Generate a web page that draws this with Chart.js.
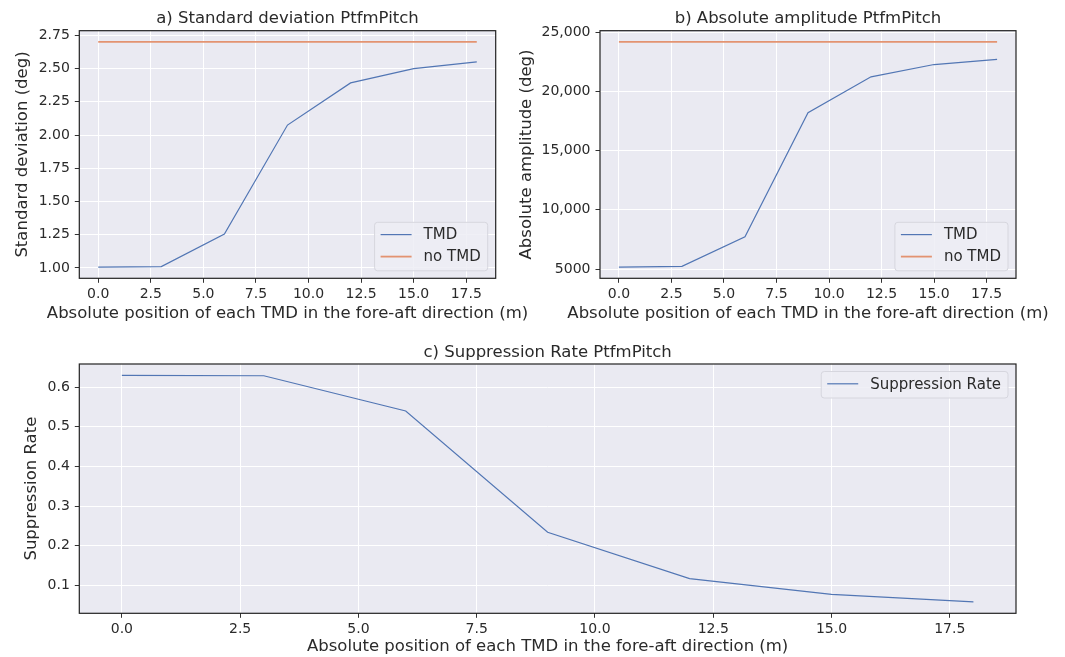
<!DOCTYPE html>
<html>
<head>
<meta charset="utf-8">
<script src="https://cdn.jsdelivr.net/npm/chart.js@4.4.1/dist/chart.umd.min.js"></script>
<style>
  html, body { margin: 0; padding: 0; background: #fff; }
  #page { position: relative; width: 1065px; height: 657px; }
  canvas { position: absolute; }
</style>
</head>
<body>
<div id="page">
  <canvas id="stdChart" width="540" height="330" style="left:0;top:0"></canvas>
  <canvas id="ampChart" width="550" height="330" style="left:515px;top:0"></canvas>
  <canvas id="rateChart" width="1065" height="327" style="left:0;top:330px"></canvas>
</div>
<script>
// TMD position sweep -> PtfmPitch response, three panels

const positions = [0, 3, 6, 9, 12, 15, 18];
const stdTmd = [1.007, 1.01, 1.255, 2.075, 2.392, 2.50, 2.55];
const stdNoTmd = [2.70, 2.70, 2.70, 2.70, 2.70, 2.70, 2.70];
const ampTmd = [5170, 5225, 7720, 18190, 21220, 22260, 22700];
const ampNoTmd = [24165, 24165, 24165, 24165, 24165, 24165, 24165];
const suppressionRate = [0.630, 0.629, 0.540, 0.234, 0.117, 0.077, 0.058];

const xTicks = [0, 2.5, 5, 7.5, 10, 12.5, 15, 17.5];
const stdTicks = [1.00, 1.25, 1.50, 1.75, 2.00, 2.25, 2.50, 2.75];
const ampTicks = [5000, 10000, 15000, 20000, 25000];
const rateTicks = [0.1, 0.2, 0.3, 0.4, 0.5, 0.6];

const xLabel = "Absolute position of each TMD in the fore-aft direction (m)";
const BLUE = "#5276b4";
const ORANGE = "#e39371";
const INK = "#2a2a2a";
const LABEL_SIZE = 16.5;

Chart.defaults.font.family = "'DejaVu Sans', sans-serif";
Chart.defaults.color = INK;

// axes background, frame, x label (wider than the axes, so not the scale title)
// and a matplotlib-like legend box
const plotFrame = {
  id: "plotFrame",
  beforeDraw(chart) {
    const { ctx, chartArea: a } = chart;
    ctx.save();
    ctx.fillStyle = "#eaeaf2";
    ctx.fillRect(a.left, a.top, a.width, a.height);
    ctx.restore();
  },
  afterDatasetsDraw(chart) {
    const { ctx, chartArea: a } = chart;
    ctx.save();
    ctx.strokeStyle = "#222";
    ctx.lineWidth = 1.2;
    ctx.strokeRect(a.left, a.top, a.width, a.height);
    ctx.restore();
  },
  afterDraw(chart, args, opts) {
    const { ctx, chartArea: a } = chart;
    const sets = chart.data.datasets;
    ctx.save();

    ctx.font = LABEL_SIZE + "px 'DejaVu Sans'";
    ctx.fillStyle = INK;
    ctx.textAlign = "center";
    ctx.textBaseline = "middle";
    ctx.fillText(xLabel, (a.left + a.right) / 2, opts.xTitleY);

    ctx.textAlign = "left";
    ctx.font = "15px 'DejaVu Sans'";
    const textW = Math.max(...sets.map(d => ctx.measureText(d.label).width));
    const w = 6 + 31 + 12 + textW + 7;
    const h = sets.length * 22 + 4.5;
    const x = a.right - 8 - w;
    const y = opts.corner === "upper" ? a.top + 7.5 : a.bottom - 7.5 - h;
    ctx.beginPath();
    ctx.roundRect(x, y, w, h, 3);
    ctx.fillStyle = "rgba(237,237,244,0.85)";
    ctx.fill();
    ctx.strokeStyle = "#d6d6de";
    ctx.lineWidth = 1;
    ctx.stroke();
    sets.forEach((d, i) => {
      const cy = y + 12.3 + i * 22;
      ctx.beginPath();
      ctx.moveTo(x + 6, cy);
      ctx.lineTo(x + 37, cy);
      ctx.strokeStyle = d.borderColor;
      ctx.lineWidth = d.borderWidth;
      ctx.stroke();
      ctx.fillStyle = INK;
      ctx.fillText(d.label, x + 49, cy + 1);
    });
    ctx.restore();
  }
};

function padded(values) {
  const lo = Math.min(...values), hi = Math.max(...values);
  const m = (hi - lo) * 0.05;
  return [lo - m, hi + m];
}

function axisGrid() {
  return { color: "#ffffff", lineWidth: 1, drawTicks: true, tickLength: 4.5, tickColor: "#333", tickWidth: 1 };
}

function makeChart(id, c) {
  const [ymin, ymax] = padded(c.datasets.flatMap(d => d.data));
  const [xmin, xmax] = padded(positions);
  return new Chart(document.getElementById(id), {
    type: "line",
    data: {
      labels: positions,
      datasets: c.datasets.map(d => ({
        label: d.label,
        data: positions.map((p, i) => ({ x: p, y: d.data[i] })),
        borderColor: d.color,
        borderWidth: d.width,
        pointRadius: 0,
        tension: 0,
        fill: false
      }))
    },
    options: {
      responsive: false,
      animation: false,
      layout: { padding: { left: 0, right: c.right, top: 0, bottom: 0 } },
      scales: {
        x: {
          type: "linear",
          min: xmin,
          max: xmax,
          afterBuildTicks: s => { s.ticks = xTicks.map(v => ({ value: v })); },
          afterFit: s => { s.height = c.xHeight; },
          ticks: { font: { size: 14 }, padding: 3, maxRotation: 0, callback: v => v.toFixed(1) },
          grid: axisGrid(),
          border: { display: false },
          title: { display: false }
        },
        y: {
          type: "linear",
          min: ymin,
          max: ymax,
          afterBuildTicks: s => { s.ticks = c.ticks.map(v => ({ value: v })); },
          afterFit: s => { s.width = c.yWidth; },
          ticks: { font: { size: 14 }, padding: 5, callback: c.fmt },
          grid: axisGrid(),
          border: { display: false },
          title: { display: true, text: c.yTitle, font: { size: LABEL_SIZE }, padding: { top: c.yTitlePad, bottom: 0 } }
        }
      },
      plugins: {
        legend: { display: false },
        tooltip: { enabled: false },
        title: {
          display: true,
          text: c.title,
          fullSize: false,
          color: INK,
          font: { size: LABEL_SIZE, weight: "normal" },
          padding: { top: c.titlePad[0], bottom: c.titlePad[1] }
        },
        plotFrame: { corner: c.corner, xTitleY: c.xTitleY }
      }
    },
    plugins: [plotFrame]
  });
}

makeChart("stdChart", {
  title: "a) Standard deviation PtfmPitch",
  yTitle: "Standard deviation (deg)",
  datasets: [
    { label: "TMD", data: stdTmd, color: BLUE, width: 1.2 },
    { label: "no TMD", data: stdNoTmd, color: ORANGE, width: 1.8 }
  ],
  ticks: stdTicks,
  fmt: v => v.toFixed(2),
  corner: "lower",
  right: 44.3, yWidth: 79.3, xHeight: 51.7,
  titlePad: [9.1, 1.8], xTitleY: 313.5, yTitlePad: 12.4
});

makeChart("ampChart", {
  title: "b) Absolute amplitude PtfmPitch",
  yTitle: "Absolute amplitude (deg)",
  datasets: [
    { label: "TMD", data: ampTmd, color: BLUE, width: 1.2 },
    { label: "no TMD", data: ampNoTmd, color: ORANGE, width: 1.8 }
  ],
  ticks: ampTicks,
  fmt: v => (v >= 10000 ? v.toLocaleString("en-US") : String(v)),
  corner: "lower",
  right: 49, yWidth: 85, xHeight: 51.7,
  titlePad: [9.1, 1.8], xTitleY: 313.5, yTitlePad: 2.1
});

makeChart("rateChart", {
  title: "c) Suppression Rate PtfmPitch",
  yTitle: "Suppression Rate",
  datasets: [
    { label: "Suppression Rate", data: suppressionRate, color: BLUE, width: 1.2 }
  ],
  ticks: rateTicks,
  fmt: v => v.toFixed(1),
  corner: "upper",
  right: 49, yWidth: 79.3, xHeight: 43.7,
  titlePad: [13.1, 1.1], xTitleY: 316.7, yTitlePad: 21.8
});
</script>
</body>
</html>
